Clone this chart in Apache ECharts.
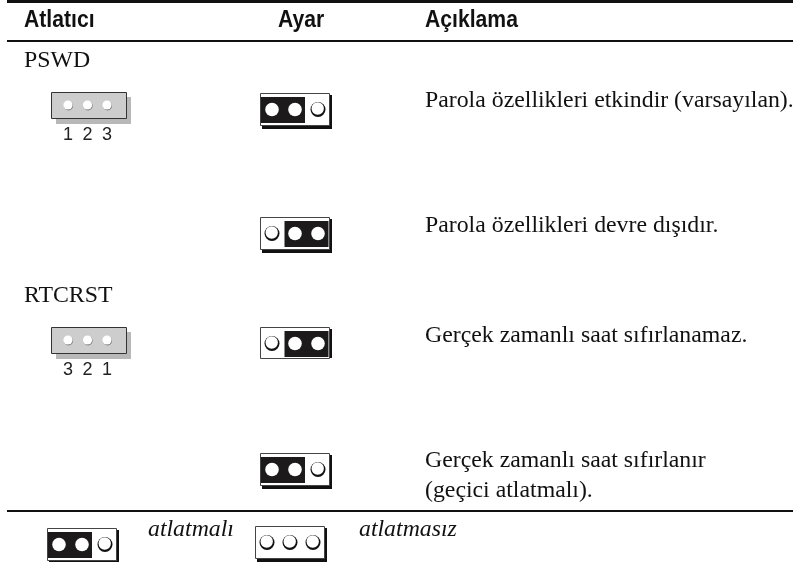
<!DOCTYPE html>
<html><head><meta charset="utf-8">
<style>html,body{margin:0;padding:0;background:#fff}#c{width:793px;height:562px}</style>
<script src="https://cdn.jsdelivr.net/npm/echarts@6/dist/echarts.min.js"></script>
</head><body><div id="c"></div>
<script>
const headers = ['Atlatıcı', 'Ayar', 'Açıklama'];
const jumperNames = ['PSWD', 'RTCRST'];
const pinLabels = [['1','2','3'], ['3','2','1']];
const settingStates = ['left', 'right', 'right', 'left'];
const descriptions = [
  ['Parola özellikleri etkindir (varsayılan).'],
  ['Parola özellikleri devre dışıdır.'],
  ['Gerçek zamanlı saat sıfırlanamaz.'],
  ['Gerçek zamanlı saat sıfırlanır', '(geçici atlatmalı).']
];
const legendLabels = ['atlatmalı', 'atlatmasız'];
const legendStates = ['left', 'none'];

const el = [];
const SERIF = '"Liberation Serif"', SANS = '"Liberation Sans"';
function rule(y, h) { el.push({type:'rect', shape:{x:7,y:y,width:786,height:h}, style:{fill:'#111'}}); }
function text(t, x, y, size, font, fill, scaleX, align) {
  el.push({type:'text', x:x, y:y - size*0.3, scaleX:scaleX||1,
    style:{text:t, font:font, fill:fill||'#111', textVerticalAlign:'middle', textBaseline:'middle', textAlign:align||'left'}});
}
function circle(x, y, r, fill) { el.push({type:'circle', shape:{cx:x,cy:y,r:r}, style:{fill:fill}}); }
function rect(x, y, w, h, style) { el.push({type:'rect', shape:{x:x,y:y,width:w,height:h}, style:style}); }

function setting(x, y, state, noBottomShadow) {
  rect(x+2, y+2, 70, noBottomShadow ? 29 : 34, {fill:'#111'});
  rect(x+.5, y+.5, 69, noBottomShadow ? 31 : 32, {fill:'#fff', stroke:'#444', lineWidth:1});
  const w = 44;
  if (state === 'left') rect(x+1, y+4, w, 26, {fill:'#1c1a1a'});
  if (state === 'right') rect(x+24.5, y+4, w, 26, {fill:'#1c1a1a'});
  const cy = y + 16.5;
  [12, 35, 58].forEach((dx, i) => {
    const on = (state === 'left' && i < 2) || (state === 'right' && i > 0);
    if (on) circle(x+dx, cy, 6.8, '#fff');
    else {
      circle(x+dx, cy, 7.5, '#111');
      circle(x+dx-.3, cy-1, 6.2, '#fff');
    }
  });
}
function header(x, y, labels) {
  rect(x+5, y+5, 75, 27, {fill:'#b8b8b8'});
  rect(x+.5, y+.5, 75, 26, {fill:'#cdcdcd', stroke:'#333', lineWidth:1});
  [17, 36.5, 56].forEach((dx, i) => {
    circle(x+dx+.5, y+13.8, 4.6, '#777');
    circle(x+dx, y+13, 4.6, '#fff');
    text(labels[i], x+dx, y+48, 18, '18px '+SANS, '#222', 1, 'center');
  });
}

rule(0, 3); rule(40, 2); rule(510, 2);
const headFont = 'bold 23px ' + SANS;
[24, 278, 425].forEach((x, i) => text(headers[i], x, 28, 23, headFont, '#111', 0.92));

const bodySize = 23.8;
const bodyFont = bodySize + 'px ' + SERIF;
text(jumperNames[0], 24, 68, bodySize, bodyFont);
text(jumperNames[1], 24, 303, bodySize, bodyFont);
header(51, 92, pinLabels[0]);
header(51, 327, pinLabels[1]);

const setY = [93, 217, 327, 453];
settingStates.forEach((s, i) => setting(260, setY[i], s, i === 2));
const descY = [108, 233, 343, 468];
descriptions.forEach((lines, i) => lines.forEach((l, j) => text(l, 425, descY[i] + j*30, bodySize, bodyFont)));

setting(47, 528, legendStates[0]);
setting(255, 526, legendStates[1]);
text(legendLabels[0], 148, 537, bodySize, 'italic ' + bodyFont);
text(legendLabels[1], 359, 537, bodySize, 'italic ' + bodyFont);

const chart = echarts.init(document.getElementById('c'), null, {renderer:'canvas'});
chart.setOption({animation:false, backgroundColor:'#fff', graphic:{elements:el}});
</script></body></html>
